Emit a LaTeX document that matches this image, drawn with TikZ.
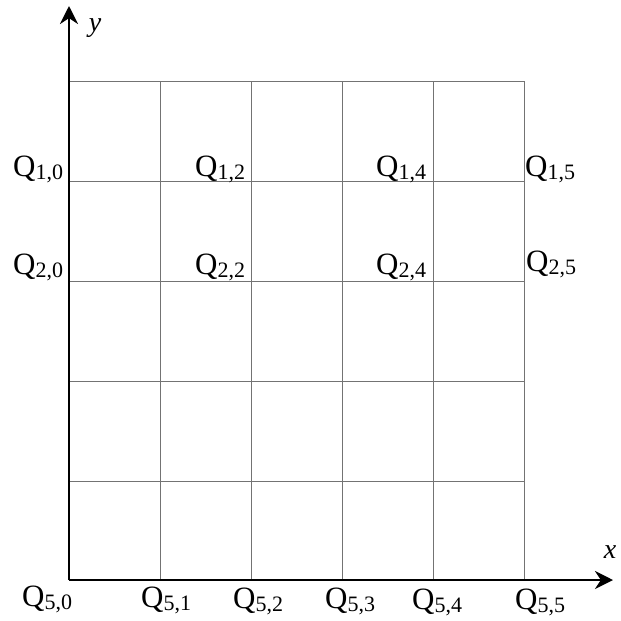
\documentclass[tikz,border=0pt]{standalone}
\usepackage{fontspec}
\setmainfont{Liberation Serif}
\usetikzlibrary{arrows.meta}

\newcommand{\qlab}[2]{Q\raisebox{-3pt}{\fontsize{22}{24}\selectfont#1,#2}}

\begin{document}
\begin{tikzpicture}[x=1pt,y=-1pt,
 axis/.style={line width=2.6pt,-{Stealth[length=18pt,width=18pt]}},
 gridline/.style={draw=black!55,line width=0.9pt},
 lbl/.style={inner sep=0pt,font=\fontsize{31}{34}\selectfont}]
\useasboundingbox (0,0) rectangle (621,621);
% grid
\foreach \x in {160,251,342,433,524} \draw[gridline] (\x,81) -- (\x,580);
\foreach \y in {81,181,281,381,481} \draw[gridline] (69,\y) -- (524,\y);
% axes
\coordinate (O) at (69,580);
\coordinate (xend) at (613,580);
\coordinate (yend) at (69,6);
\draw[axis] (O) -- (xend);
\draw[axis] (O) -- (yend);
\node[lbl,font=\fontsize{28}{30}\selectfont\itshape] (xl) at (610,552) {x};
\node[lbl,font=\fontsize{28}{30}\selectfont\itshape] (yl) at (95,28) {y};
% labels
\node[lbl,anchor=base west] (q10) at (13,176) {\qlab{1}{0}};
\node[lbl,anchor=base west] (q12) at (195,176) {\qlab{1}{2}};
\node[lbl,anchor=base west] (q14) at (376,176) {\qlab{1}{4}};
\node[lbl,anchor=base west] (q15) at (525,176) {\qlab{1}{5}};
\node[lbl,anchor=base west] (q20) at (13,274) {\qlab{2}{0}};
\node[lbl,anchor=base west] (q22) at (195,274) {\qlab{2}{2}};
\node[lbl,anchor=base west] (q24) at (376,274) {\qlab{2}{4}};
\node[lbl,anchor=base west] (q25) at (526,271) {\qlab{2}{5}};
\node[lbl,anchor=base west] (q50) at (22,606) {\qlab{5}{0}};
\node[lbl,anchor=base west] (q51) at (141,607) {\qlab{5}{1}};
\node[lbl,anchor=base west] (q52) at (233,608) {\qlab{5}{2}};
\node[lbl,anchor=base west] (q53) at (325,608) {\qlab{5}{3}};
\node[lbl,anchor=base west] (q54) at (412,609) {\qlab{5}{4}};
\node[lbl,anchor=base west] (q55) at (515,609) {\qlab{5}{5}};
\end{tikzpicture}
\end{document}
